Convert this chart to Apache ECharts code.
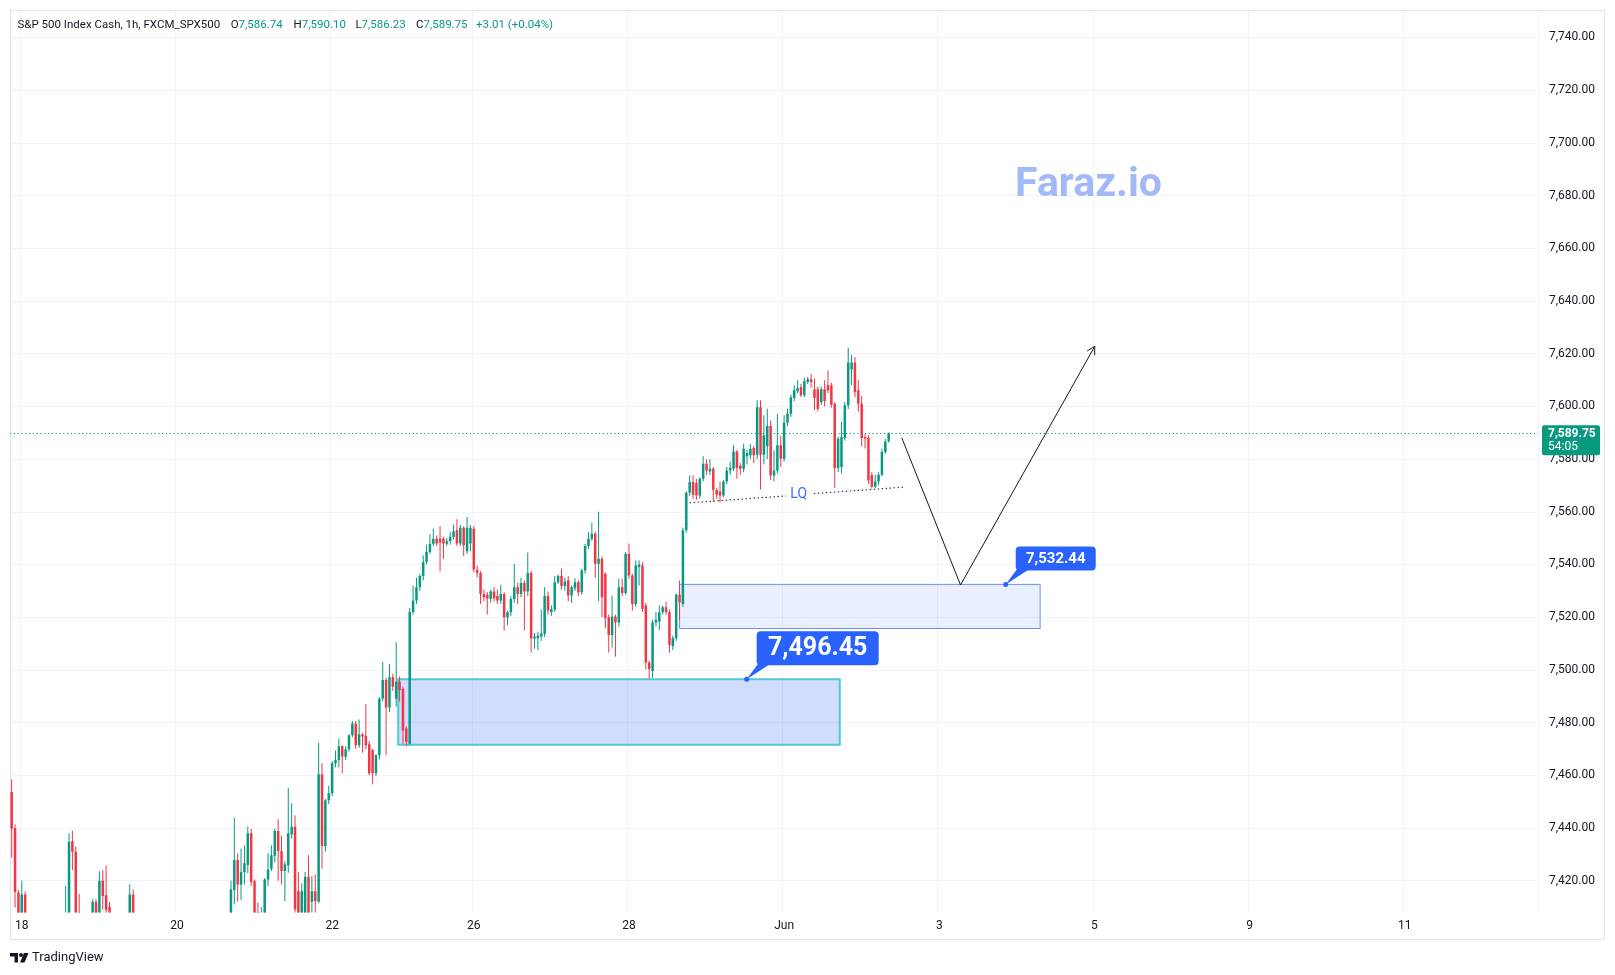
<!DOCTYPE html>
<html>
<head>
<meta charset="utf-8">
<script src="https://cdn.jsdelivr.net/npm/echarts@6/dist/echarts.min.js"></script>
<style>
  html, body { margin: 0; padding: 0; background: #fff; }
  #chart { width: 1615px; height: 975px; }
</style>
</head>
<body>
<div id="chart"></div>
<script>
// hourly bars, [open, close, low, high]; null = bar sits below the visible price range
const ohlc = [
  // May 18
  [7453.7, 7439.8, 7428.7, 7458.5], [7440, 7415.7, 7409.8, 7441.4], [7415.5, 7404, 7398, 7416.5],
  [7403, 7414.8, 7400, 7420], [7414.8, 7404, 7399, 7416],
  null, null, null, null, null, null, null, null, null, null, null,
  [7400, 7406, 7396, 7418], [7402, 7434.8, 7398, 7438], [7435, 7431, 7424, 7439],
  [7431, 7404, 7398, 7433], [7408, 7402, 7397, 7415],
  null, null, null,
  [7402, 7412, 7398, 7413], [7412, 7404, 7400, 7413], [7405, 7420, 7402, 7423.6],
  [7420, 7414.2, 7409, 7424], [7414.5, 7409, 7405, 7425.8], [7410, 7404, 7400, 7412],
  null, null, null, null, null,
  [7402, 7414.8, 7398, 7418.6], [7414.8, 7404, 7400, 7416.7],
  // May 20 - 21
  null, null, null, null, null, null, null, null, null, null, null, null, null, null,
  null, null, null, null, null, null, null, null, null, null, null, null, null, null,
  [7402, 7416.7, 7399, 7420], [7416.5, 7427.9, 7411, 7443.9], [7427.9, 7418.6, 7412, 7430.4],
  [7418.6, 7423.3, 7412.7, 7432.2], [7423.3, 7426.6, 7418.6, 7433.4], [7426, 7438, 7422.8, 7440.5],
  [7438, 7419.5, 7418, 7439.7], [7419.8, 7404, 7400, 7420.5], [7408, 7403, 7399, 7411.6],
  [7402, 7406, 7399, 7410], [7403, 7420.5, 7401, 7421], [7420.5, 7424.3, 7418, 7430.4],
  [7424.5, 7429.7, 7423.7, 7433.4], [7429.5, 7438.9, 7427, 7439.8], [7438.9, 7431.3, 7420, 7443.3],
  [7431.3, 7423.7, 7418.6, 7437], [7423.7, 7426.2, 7412.3, 7427.5], [7425.8, 7438, 7423, 7455.3],
  [7437.5, 7440.5, 7436, 7449.4], [7440.5, 7409.2, 7405, 7444.8], [7416, 7406, 7400, 7423.3],
  [7405, 7416, 7402, 7419], [7406, 7421.5, 7403, 7423.3], [7421.5, 7406, 7402, 7429.7],
  [7412, 7416, 7405, 7421.8], [7416, 7412.3, 7405, 7422.4],
  // May 22
  [7412, 7460.4, 7411.6, 7472.4], [7460.4, 7433.2, 7424.6, 7464.6], [7433.2, 7450.5, 7431, 7451],
  [7450.5, 7453.2, 7449, 7456], [7453.2, 7464.6, 7452, 7465.4], [7464.5, 7465.8, 7463, 7469.4],
  [7465.8, 7471, 7463, 7474], [7471, 7467.1, 7460.8, 7471.4], [7467, 7469.9, 7465.8, 7471],
  [7469.9, 7475.2, 7469, 7475.6], [7475.2, 7479.7, 7474.5, 7480.6], [7479.7, 7471.4, 7470, 7480.6],
  [7471.4, 7475.6, 7470.4, 7481.2], [7475.6, 7474.7, 7468.6, 7476], [7475, 7471.4, 7470, 7487],
  [7471.8, 7460.8, 7460, 7473], [7469.6, 7460.8, 7456.6, 7470], [7460.8, 7467.6, 7459.6, 7468],
  [7467.6, 7489.1, 7466, 7489.6], [7489.1, 7496.2, 7488, 7503], [7496.2, 7485.7, 7467.6, 7497],
  [7485.7, 7497.2, 7484, 7502.3], [7497.2, 7493.6, 7492, 7498.5], [7489, 7495.5, 7486, 7510.5],
  [7495.5, 7492.4, 7488, 7497.5], [7492.8, 7477, 7472, 7493.6], [7477.8, 7472.7, 7471, 7478.5],
  [7472, 7522, 7471.5, 7523.5], [7522, 7526.3, 7521, 7532], [7526.3, 7531.4, 7525, 7535],
  [7531.4, 7535.6, 7530, 7536.5], [7535.6, 7540.9, 7534, 7543.5], [7540.9, 7544.7, 7540, 7547.5],
  [7544.7, 7547.9, 7544, 7551.5], [7547.9, 7549.8, 7547, 7553.6], [7549.8, 7548, 7547, 7551],
  [7549.8, 7548.3, 7537.3, 7554.6], [7549.8, 7548, 7542, 7550.5], [7547.9, 7548.8, 7547, 7550],
  [7548.8, 7550.4, 7547.5, 7552.3], [7550.4, 7552.6, 7549.5, 7555.1], [7553, 7548, 7547, 7557.2],
  [7548, 7553.9, 7547, 7555], [7553.9, 7547.3, 7543.2, 7554.5], [7545, 7553.9, 7544, 7558],
  [7548, 7553.9, 7545, 7555],
  // May 26 - 27
  [7553.6, 7538.1, 7537, 7554.6], [7538, 7536.8, 7535, 7539.5], [7536.8, 7528.8, 7525, 7537.5],
  [7528.8, 7527.6, 7526, 7530.5], [7528.5, 7527.1, 7521, 7529.5], [7527, 7529.7, 7525.5, 7530.5],
  [7529.7, 7527.2, 7526, 7531.4], [7528, 7526.3, 7525, 7530.5], [7526.3, 7528.8, 7525, 7532.3],
  [7528.8, 7520, 7514.9, 7529.5], [7520, 7521.9, 7517, 7522.5], [7521.9, 7526.9, 7520.5, 7528],
  [7526.9, 7531.4, 7525.5, 7540.2], [7531.4, 7528.8, 7525, 7533], [7528.8, 7533, 7527.5, 7535],
  [7533, 7529.7, 7514.9, 7534], [7529.7, 7536.8, 7528, 7544.5], [7536.8, 7511.9, 7506.6, 7537.5],
  [7511.9, 7512.7, 7508, 7514], [7512, 7513, 7507.5, 7514.5], [7512.7, 7513.8, 7511, 7522.9],
  [7513.6, 7528, 7512.5, 7531.4], [7528, 7522.5, 7521, 7529.8], [7522, 7523, 7520.5, 7524.5],
  [7522.9, 7533.3, 7522, 7535.6], [7533.3, 7535.6, 7532.5, 7536.2], [7535.6, 7531.8, 7530.5, 7538.4],
  [7531.8, 7533.5, 7530, 7535], [7534, 7528.2, 7526, 7535.6], [7528.2, 7531.4, 7525.4, 7532],
  [7531, 7533.3, 7530, 7534.8], [7533.3, 7529.5, 7528, 7534], [7529.5, 7537.7, 7528.5, 7538.4],
  [7537.7, 7547, 7536.5, 7547.8], [7547, 7549.8, 7546, 7552.3], [7549.8, 7551.7, 7549, 7555.9],
  [7551.7, 7540.3, 7535, 7552.5], [7540.3, 7542.2, 7526, 7560], [7542.2, 7527.6, 7520, 7543],
  [7536.5, 7519.6, 7515.8, 7537], [7520, 7513.2, 7506.6, 7521], [7513.2, 7520.3, 7508.5, 7528.2],
  [7520.3, 7518, 7505, 7521], [7518, 7531.4, 7516.5, 7534.6], [7531.4, 7529.2, 7528, 7534.6],
  [7529.2, 7544.1, 7528.5, 7544.7],
  // May 28 - 29
  [7544.1, 7535.8, 7534.5, 7547.9], [7535.8, 7525, 7522.5, 7536.5], [7525, 7539.6, 7524, 7541.5],
  [7539, 7540, 7532, 7541.5], [7539.6, 7523.1, 7522, 7540.8], [7524.4, 7502.8, 7500.3, 7525.5],
  [7502.8, 7500.3, 7496.7, 7503.5], [7499.6, 7518, 7497, 7519], [7518, 7519, 7516.5, 7521.9],
  [7518.3, 7521.9, 7515, 7524.4], [7521.9, 7523.8, 7521, 7524.4], [7523.8, 7521.9, 7521, 7525.8],
  [7522, 7509.4, 7506.4, 7523], [7509.1, 7512, 7507.5, 7513], [7512, 7528.5, 7511, 7529],
  [7528.5, 7525.7, 7519, 7533.9], [7525, 7553, 7523.9, 7554], [7553, 7567.2, 7552, 7567.8],
  [7567.2, 7571.3, 7566, 7573.8], [7571.3, 7566.5, 7565, 7573.8], [7571, 7566.2, 7564.5, 7572.4],
  [7566.2, 7572.5, 7565, 7573], [7572.5, 7578.2, 7571.5, 7581.1], [7578.2, 7575.7, 7574, 7579.9],
  [7575.3, 7576.3, 7574, 7579.9], [7576.3, 7568.3, 7563.8, 7577], [7568.3, 7566.5, 7565, 7569],
  [7567.7, 7566.2, 7563.5, 7571.5], [7566.2, 7571.5, 7565.5, 7572], [7571.5, 7575.7, 7570.5, 7577],
  [7575.7, 7576.6, 7574, 7579], [7576.3, 7582.9, 7575.5, 7585.4], [7582.9, 7576.6, 7572.5, 7583.5],
  [7577.5, 7576.3, 7574, 7578.5], [7576.3, 7583.9, 7575, 7585.8], [7581.1, 7582.3, 7578, 7583.5],
  [7581.4, 7583.9, 7580, 7585.8], [7584.2, 7581.4, 7578.5, 7585], [7581.6, 7599.7, 7580, 7602.3],
  [7599.7, 7581.6, 7568.5, 7602.3], [7581.6, 7589, 7578, 7596.6], [7584.9, 7592.5, 7580, 7599.1],
  [7592.5, 7573.8, 7572, 7594.7], [7573.8, 7575.7, 7571.5, 7583.3], [7575.7, 7585.2, 7574.5, 7597.2],
  [7585.2, 7580.1, 7577, 7588.8],
  // Jun 1 - 2
  [7580.1, 7593.8, 7579, 7596.6], [7593.8, 7597.2, 7592.5, 7599.1], [7597.2, 7603.5, 7596, 7604.5],
  [7603.2, 7606.1, 7602, 7608], [7605.7, 7607, 7605, 7609.9], [7607.3, 7604.2, 7603.5, 7608.5],
  [7604.2, 7609.5, 7603.5, 7610.8], [7609.2, 7610.3, 7608.5, 7611.2], [7610.3, 7609.2, 7607, 7612.4],
  [7606.5, 7603.2, 7598.6, 7610.5], [7606.5, 7599.1, 7598, 7607.5], [7601.6, 7606.5, 7600.5, 7607.5],
  [7606.5, 7602, 7600, 7609.9], [7608, 7606.1, 7605, 7613.7], [7608, 7600.6, 7599.5, 7609],
  [7601, 7576.6, 7569, 7601.5], [7576.6, 7587.7, 7575, 7588.5], [7577, 7588.4, 7574.5, 7594.1],
  [7588, 7600.4, 7587, 7601.6], [7600.4, 7616.6, 7599, 7622.3], [7614, 7616.6, 7608, 7619.5],
  [7616.6, 7605.4, 7603.5, 7618.7], [7606.1, 7601, 7598, 7609.9], [7601, 7588, 7584.9, 7604],
  [7588.4, 7587.7, 7584, 7589.5], [7588, 7572, 7570.5, 7589], [7573.9, 7569.5, 7568.8, 7575],
  [7569.5, 7571.5, 7569, 7574], [7571.5, 7574, 7570, 7575], [7574, 7582.7, 7573.5, 7584],
  [7582.7, 7586.7, 7582, 7587.7], [7586.74, 7589.75, 7586.23, 7590.10]
];

const barSlots = 453;                 // candles plus projected empty hours to the right
const tickBars = [3, 49, 95, 137, 183, 229, 275, 321, 367, 413];
const tickLabels = ['18', '20', '22', '26', '28', 'Jun', '3', '5', '9', '11'];
const priceTicks = [7420, 7440, 7460, 7480, 7500, 7520, 7540, 7560, 7580, 7600,
                    7620, 7640, 7660, 7680, 7700, 7720, 7740];
const lastPrice = 7589.75;
const legendValues = [['O', '7,586.74'], ['H', '7,590.10'], ['L', '7,586.23'], ['C', '7,589.75']];
const legendChange = '+3.01 (+0.04%)';

// drawings: [fromBar, toBar, topPrice, bottomPrice]
const zoneLower = [114.6, 245.5, 7496.45, 7471.6];
const zoneUpper = [198.0, 304.9, 7532.44, 7515.7];
const swingPath = [[263.9, 7588], [281.3, 7532.2], [321.1, 7622.8]];
const lqLine = [[[201, 7563.4], [229.6, 7566.0]], [[237.8, 7566.9], [265, 7569.4]]];
const lqLabel = [233.9, 7566.4];
const callouts = [
  { bar: 217.9, price: 7496.45, text: '7,496.45', size: 25, w: 122, h: 34 },
  { bar: 294.7, price: 7532.44, text: '7,532.44', size: 15, w: 80, h: 24 }
];

const FONT = 'Roboto, "Noto Sans", sans-serif';
const UP = '#089981';
const DOWN = '#F23645';
const INK = '#131722';

const tickMap = {};
tickBars.forEach((b, k) => { tickMap[b] = tickLabels[k]; });
const categories = [];
for (let i = 0; i < barSlots; i++) categories.push(String(i));
const candleRows = ohlc.map((d, i) => d && [i].concat(d)).filter(Boolean);
const fmt = v => v.toLocaleString('en-US', { minimumFractionDigits: 2, maximumFractionDigits: 2 });

const chart = echarts.init(document.getElementById('chart'));

chart.setOption({
  animation: false,
  backgroundColor: '#ffffff',
  grid: { left: 10, right: 77, top: 10, bottom: 62.4 },
  xAxis: [{
    type: 'category',
    data: categories,
    boundaryGap: true,
    axisLine: { show: false },
    axisTick: { show: false },
    axisLabel: {
      interval: (i) => tickMap[i] !== undefined,
      formatter: (v, i) => tickMap[i] || '',
      color: INK, fontSize: 12, fontFamily: FONT, margin: 7
    },
    splitLine: {
      show: true,
      interval: (i) => tickMap[i] !== undefined,
      lineStyle: { color: '#f0f3fa', width: 1 }
    }
  }, {
    type: 'value', show: false, position: 'top',
    min: -0.5, max: barSlots - 0.5
  }],
  yAxis: {
    type: 'value',
    position: 'right',
    min: 7407.9, max: 7750.4,
    axisLine: { show: false },
    axisTick: { show: false, customValues: priceTicks },
    axisLabel: {
      customValues: priceTicks,
      formatter: fmt,
      color: INK, fontSize: 12, fontFamily: FONT, margin: 11
    },
    splitLine: { show: true, lineStyle: { color: '#f0f3fa', width: 1 } }
  },
  series: [{
    name: 'SPX500',
    type: 'custom',
    xAxisIndex: 0,
    clip: true,
    z: 3,
    data: candleRows,
    encode: { x: 0, y: [1, 2, 3, 4] },
    renderItem: (params, api) => {
      const x = api.value(0);
      const o = api.value(1), c = api.value(2), l = api.value(3), h = api.value(4);
      const pO = api.coord([x, o]), pC = api.coord([x, c]);
      const pL = api.coord([x, l]), pH = api.coord([x, h]);
      const color = c >= o ? UP : DOWN;
      const top = Math.min(pO[1], pC[1]);
      const hgt = Math.max(Math.abs(pO[1] - pC[1]), 1);
      return {
        type: 'group',
        children: [
          { type: 'line', shape: { x1: pH[0], y1: pH[1], x2: pL[0], y2: pL[1] },
            style: { stroke: color, lineWidth: 1 } },
          { type: 'rect', shape: { x: pO[0] - 1.25, y: top, width: 2.5, height: hgt },
            style: { fill: color } }
        ]
      };
    }
  }, {
    name: 'drawings',
    type: 'line',
    xAxisIndex: 1,
    data: swingPath,
    symbol: 'none',
    silent: true,
    z: 4,
    lineStyle: { color: INK, width: 1 },
    markArea: {
      silent: true,
      label: { show: false },
      data: [
        [{ coord: [zoneLower[0], zoneLower[2]],
           itemStyle: { color: 'rgba(41,98,255,0.22)', borderColor: '#4fc8dc', borderWidth: 2 } },
         { coord: [zoneLower[1], zoneLower[3]] }],
        [{ coord: [zoneUpper[0], zoneUpper[2]],
           itemStyle: { color: 'rgba(41,98,255,0.1)', borderColor: '#6f8ff0', borderWidth: 1 } },
         { coord: [zoneUpper[1], zoneUpper[3]] }]
      ]
    },
    markLine: {
      silent: true,
      symbol: ['none', 'none'],
      label: { show: false },
      data: [
        { yAxis: lastPrice, lineStyle: { color: UP, width: 1, type: [1.2, 2.6] } },
        [{ coord: lqLine[0][0], lineStyle: { color: '#3a3e4a', width: 1.2, type: [1.5, 2.5] } },
         { coord: lqLine[0][1] }],
        [{ coord: lqLine[1][0], lineStyle: { color: '#3a3e4a', width: 1.2, type: [1.5, 2.5] } },
         { coord: lqLine[1][1] }]
      ]
    }
  }]
});

function px(bar, price) {
  return chart.convertToPixel({ xAxisIndex: 1, yAxisIndex: 0 }, [bar, price]);
}

const g = [];

// widget frame
g.push({ type: 'rect', silent: true, z: 0,
  shape: { x: 10.5, y: 10.5, width: 1594, height: 929 },
  style: { fill: 'none', stroke: '#e0e3eb', lineWidth: 1 } });

// legend line
const headFont = '11.5px ' + FONT;
g.push({ type: 'text', silent: true, z: 10,
  style: { text: 'S&P 500 Index Cash, 1h, FXCM_SPX500', x: 17.5, y: 24.7, fill: INK,
    font: headFont, verticalAlign: 'middle' } });
const legendX = [230.7, 293.6, 355.4, 416];
legendValues.forEach(([k, v], n) => g.push({ type: 'text', silent: true, z: 10,
  style: { text: '{k|' + k + '}{v|' + v + '}', x: legendX[n], y: 24.7, font: headFont,
    verticalAlign: 'middle',
    rich: { k: { fill: INK, font: headFont }, v: { fill: UP, font: headFont } } } }));
g.push({ type: 'text', silent: true, z: 10,
  style: { text: legendChange, x: 476, y: 24.7, fill: UP, font: headFont, verticalAlign: 'middle' } });

// watermark
g.push({ type: 'text', silent: true, z: 1,
  style: { text: 'Faraz.io', x: 1088.5, y: 186, fill: '#a3b8f7',
    font: 'bold 41px ' + FONT, align: 'center', verticalAlign: 'middle' } });

// arrow head on the swing path
const ends = swingPath.map(([b, v]) => px(b, v));
const pA = ends[1], pB = ends[2];
const ang = Math.atan2(pB[1] - pA[1], pB[0] - pA[0]);
const arm = 9;
g.push({ type: 'polyline', silent: true, z: 10,
  shape: { points: [
    [pB[0] - arm * Math.cos(ang - 0.5), pB[1] - arm * Math.sin(ang - 0.5)],
    pB,
    [pB[0] - arm * Math.cos(ang + 0.5), pB[1] - arm * Math.sin(ang + 0.5)]
  ] },
  style: { stroke: INK, lineWidth: 1, fill: null } });

// LQ label
const lq = px(lqLabel[0], lqLabel[1]);
g.push({ type: 'text', silent: true, z: 10,
  style: { text: 'LQ', x: lq[0] - 2, y: lq[1], fill: '#3d6ff0',
    font: '14px ' + FONT, align: 'center', verticalAlign: 'middle' } });

// price callouts
callouts.forEach(cl => {
  const a = px(cl.bar, cl.price);
  const bx = a[0] + 10, by = a[1] - 14 - cl.h;
  g.push({ type: 'polygon', silent: true, z: 11,
    shape: { points: [a, [bx + 1, by + cl.h - 1], [bx + 13, by + cl.h - 1]] },
    style: { fill: '#2962ff' } });
  g.push({ type: 'rect', silent: true, z: 11,
    shape: { x: bx, y: by, width: cl.w, height: cl.h, r: 4 },
    style: { fill: '#2962ff' } });
  g.push({ type: 'text', silent: true, z: 12,
    style: { text: cl.text, x: bx + cl.w / 2, y: by + cl.h / 2 + 1, fill: '#ffffff',
      font: 'bold ' + cl.size + 'px ' + FONT, align: 'center', verticalAlign: 'middle' } });
  g.push({ type: 'circle', silent: true, z: 12,
    shape: { cx: a[0], cy: a[1], r: 2.5 }, style: { fill: '#2962ff' } });
});

// last price tag on the price scale
const lp = px(0, lastPrice);
g.push({ type: 'rect', silent: true, z: 20,
  shape: { x: 1542, y: lp[1] - 8, width: 58, height: 30, r: 2 },
  style: { fill: UP } });
g.push({ type: 'text', silent: true, z: 21,
  style: { text: fmt(lastPrice), x: 1548, y: lp[1] + 0.5, fill: '#ffffff',
    font: 'bold 12px ' + FONT, verticalAlign: 'middle' } });
g.push({ type: 'text', silent: true, z: 21,
  style: { text: '54:05', x: 1548, y: lp[1] + 14, fill: '#ffffff',
    font: '12px ' + FONT, verticalAlign: 'middle' } });

// TradingView mark
g.push({ type: 'rect', silent: true, z: 10, shape: { x: 10, y: 953, width: 8, height: 3.5 }, style: { fill: INK } });
g.push({ type: 'rect', silent: true, z: 10, shape: { x: 14.5, y: 953, width: 3.5, height: 9.5 }, style: { fill: INK } });
g.push({ type: 'circle', silent: true, z: 10, shape: { cx: 21, cy: 955, r: 2 }, style: { fill: INK } });
g.push({ type: 'polygon', silent: true, z: 10,
  shape: { points: [[24, 953], [28.5, 953], [24.5, 962.5], [20, 962.5]] }, style: { fill: INK } });
g.push({ type: 'text', silent: true, z: 10,
  style: { text: 'TradingView', x: 32, y: 958, fill: INK, font: '13px ' + FONT, verticalAlign: 'middle' } });

chart.setOption({ graphic: g });
</script>
</body>
</html>
